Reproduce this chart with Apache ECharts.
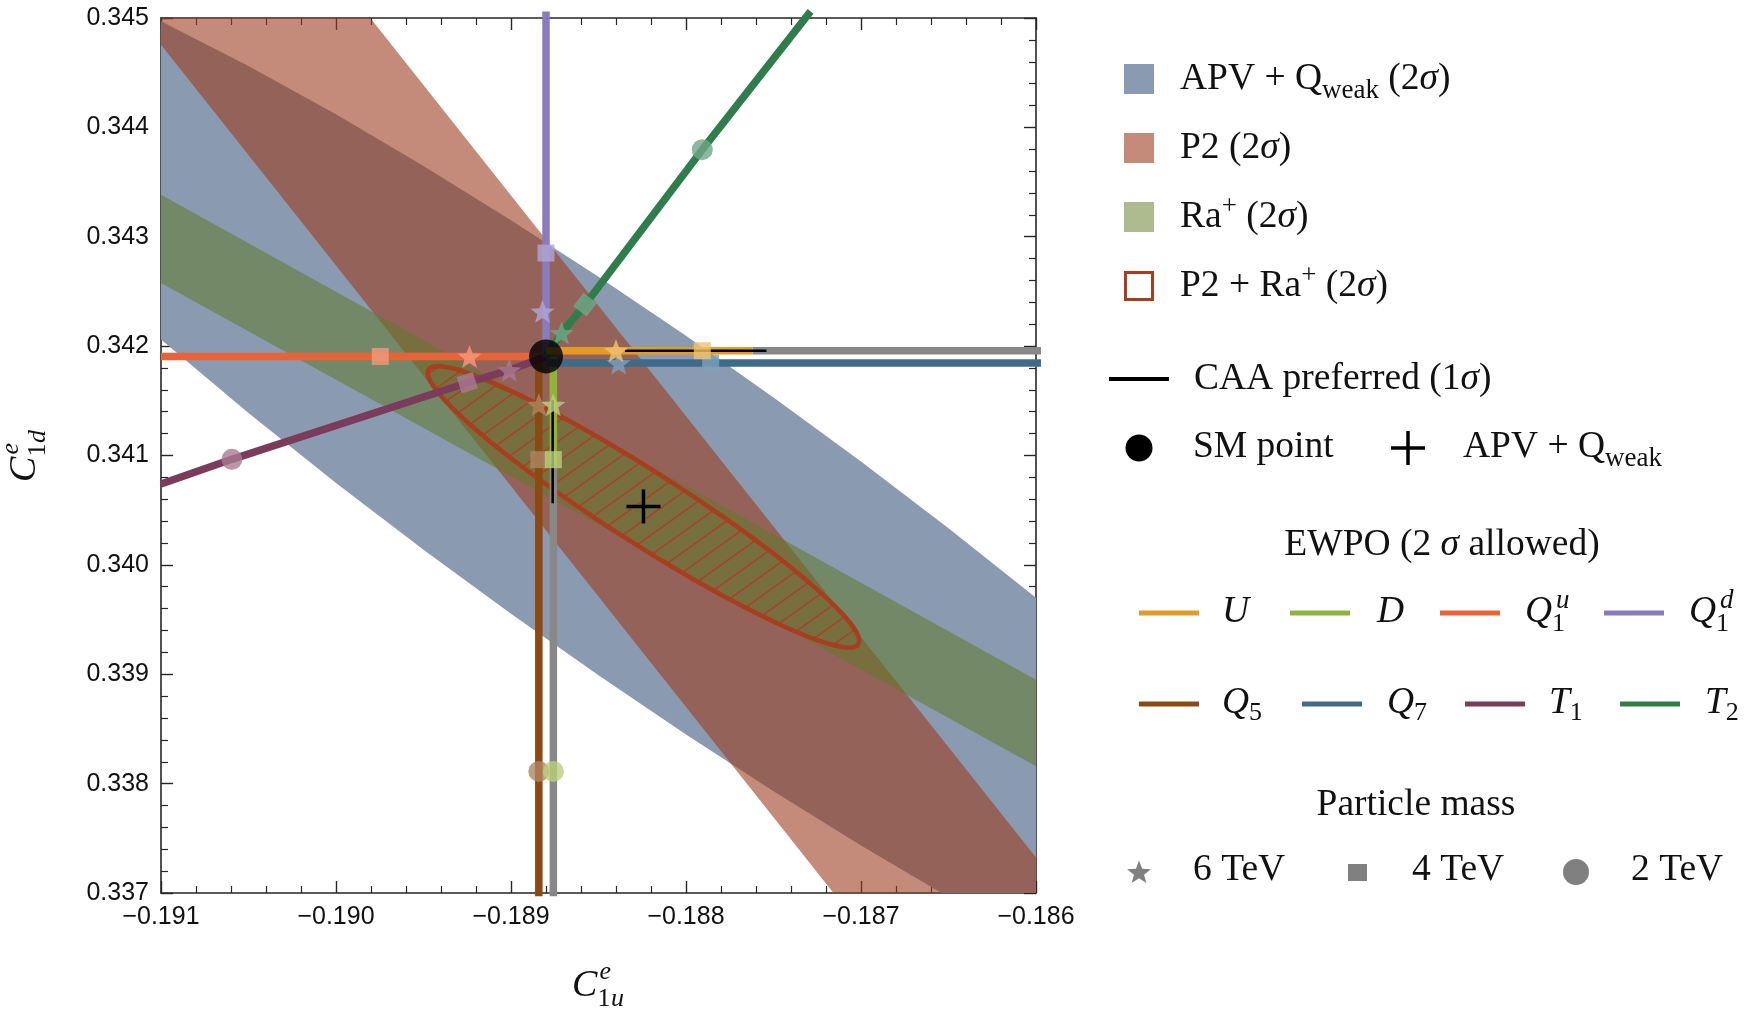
<!DOCTYPE html>
<html>
<head>
<meta charset="utf-8">
<title>C1u - C1d plane</title>
<script src="https://cdn.jsdelivr.net/npm/echarts@6/dist/echarts.min.js"></script>
<style>
  html, body { margin: 0; padding: 0; background: #fff; }
  #chart { width: 1750px; height: 1010px; }
</style>
</head>
<body>
<div id="chart"></div>
<script>
// axes
const xRange = [-0.191, -0.186];
const yRange = [0.337, 0.345];
const tickStep = 0.001;

// SM point and APV + Qweak best fit
const smPoint = [-0.18880, 0.341906];
const apvFit = [-0.188243, 0.340534];

// 2 sigma regions (boundary vertices)
const apvRegion = [
  [-0.191, 0.344971], [-0.1905, 0.344561], [-0.190, 0.344119], [-0.1895, 0.343648],
  [-0.189, 0.343152], [-0.1885, 0.342634], [-0.188, 0.342094], [-0.1875, 0.341531],
  [-0.187, 0.340946], [-0.1865, 0.340336], [-0.186, 0.339699],
  [-0.186, 0.337], [-0.18654, 0.337],
  [-0.187, 0.337434], [-0.1875, 0.337930], [-0.188, 0.338449], [-0.1885, 0.338990],
  [-0.189, 0.339553], [-0.1895, 0.340139], [-0.190, 0.340749], [-0.1905, 0.341388],
  [-0.191, 0.342060]
];
const p2Band = [
  [-0.191, 0.345], [-0.189804, 0.345], [-0.186, 0.337324],
  [-0.186, 0.337], [-0.187157, 0.337], [-0.191, 0.344756]
];
const raBand = [
  [-0.191, 0.343385], [-0.186, 0.338950], [-0.186, 0.338158], [-0.191, 0.342577]
];
const p2RaRegion = [
  [-0.187015, 0.339275], [-0.187085, 0.339245], [-0.187235, 0.339304], [-0.187453, 0.339446],
  [-0.187725, 0.339662], [-0.188032, 0.339937], [-0.188354, 0.340253], [-0.188668, 0.340587],
  [-0.188953, 0.340917], [-0.189190, 0.341222], [-0.189362, 0.341478], [-0.189458, 0.341671],
  [-0.189471, 0.341785], [-0.189401, 0.341815], [-0.189251, 0.341756], [-0.189033, 0.341614],
  [-0.188761, 0.341398], [-0.188454, 0.341123], [-0.188132, 0.340807], [-0.187818, 0.340473],
  [-0.187533, 0.340143], [-0.187296, 0.339838], [-0.187124, 0.339582], [-0.187028, 0.339389]
];

// EWPO lines: allowed path, and points at 6 / 4 / 2 TeV (null = outside the plot)
const uPath = [[-0.18880, 0.341958], [-0.18762, 0.341958]];
const uMass = [[-0.18840, 0.341958], [-0.187907, 0.341958], null];
const dPath = [[-0.188758, 0.341906], [-0.188758, 0.34093]];
const dMass = [[-0.188758, 0.341465], [-0.188758, 0.340962], [-0.188758, 0.338112]];
const q1uPath = [[-0.18880, 0.341906], [-0.191, 0.341906]];
const q1uMass = [[-0.189237, 0.341906], [-0.189747, 0.341906], null];
const q1dPath = [[-0.18880, 0.341906], [-0.18880, 0.34506]];
const q1dMass = [[-0.18882, 0.342318], [-0.18880, 0.342851], null];
const q5Path = [[-0.188841, 0.341906], [-0.188841, 0.33697]];
const q5Mass = [[-0.188841, 0.341465], [-0.188841, 0.340962], [-0.188841, 0.338112]];
const q7Path = [[-0.18880, 0.341845], [-0.185966, 0.341845]];
const q7Mass = [[-0.188385, 0.341845], [-0.187859, 0.341845], null];
const t1Path = [[-0.18880, 0.341906], [-0.18901, 0.34178], [-0.18925, 0.341665], [-0.190595, 0.340965], [-0.191, 0.34074]];
const t1Mass = [[-0.18901, 0.34178], [-0.18925, 0.341665], [-0.190595, 0.340965]];
const t2Path = [[-0.18880, 0.341906], [-0.188711, 0.34212], [-0.188577, 0.342379], [-0.187907, 0.343796], [-0.187288, 0.34506]];
const t2Mass = [[-0.188711, 0.34212], [-0.188577, 0.342379], [-0.187907, 0.343796]];

// EWPO excluded continuation (grey) and CAA preferred (1 sigma)
const uExcluded = [[-0.18762, 0.341958], [-0.185966, 0.341958]];
const dExcluded = [[-0.188758, 0.34093], [-0.188758, 0.33697]];
const caaU = [[-0.188349, 0.341958], [-0.18754, 0.341958]];
const caaD = [[-0.188762, 0.341507], [-0.188762, 0.340563]];

const ewpo = [
  { name: 'Q5', path: q5Path, mass: q5Mass, color: '#8b4a13', light: '#b0855f', rot: 0 },
  { name: 'D', path: dPath, mass: dMass, color: '#8fb43a', light: '#b9d07b', rot: 0 },
  { name: 'Q1u', path: q1uPath, mass: q1uMass, color: '#e9633a', light: '#f29a7c', rot: 0 },
  { name: 'T1', path: t1Path, mass: t1Mass, color: '#7b3b5a', light: '#a97b93', rot: 18 },
  { name: 'Q1d', path: q1dPath, mass: q1dMass, color: '#8a7bbd', light: '#b2a6d6', rot: 0 },
  { name: 'T2', path: t2Path, mass: t2Mass, color: '#2f7d4b', light: '#72a788', rot: 53 },
  { name: 'Q7', path: q7Path, mass: q7Mass, color: '#3f6b8b', light: '#7ea1ba', rot: 0 },
  { name: 'U', path: uPath, mass: uMass, color: '#e39b26', light: '#f0c272', rot: 0 }
];

const starPath = 'path://M0,-10L2.469,-3.398L9.511,-3.090L3.994,1.298L5.878,8.090L0,4.2L-5.878,8.090L-3.994,1.298L-9.511,-3.090L-2.469,-3.398Z';
const massSymbol = [starPath, 'rect', 'circle'];
const massSize = [[24, 23], 17, 21];

const chart = echarts.init(document.getElementById('chart'), null, { renderer: 'canvas' });

function fmt(v) {
  return (v < 0 ? '\u2212' : '') + Math.abs(v).toFixed(3);
}

function axis(pos, range, labels) {
  return {
    type: 'value', position: pos, min: range[0], max: range[1], interval: tickStep,
    axisLine: { show: true, onZero: false, lineStyle: { color: '#262626', width: 1.6 } },
    axisTick: { show: true, inside: true, length: 12, lineStyle: { color: '#262626', width: 1.4 } },
    minorTick: { show: true, splitNumber: 5, length: 7, lineStyle: { color: '#262626', width: 1.2 } },
    splitLine: { show: false },
    minorSplitLine: { show: false },
    axisLabel: {
      show: labels, fontFamily: '"Liberation Sans", Arial, sans-serif', fontSize: 25,
      color: '#111', margin: 12, showMinLabel: true, showMaxLabel: true, formatter: fmt
    }
  };
}

// diagonal hatch for the P2 + Ra+ region
function hatch() {
  const w = 28, h = 20;
  const c = document.createElement('canvas');
  c.width = w; c.height = h;
  const g = c.getContext('2d');
  g.strokeStyle = '#a8432a';
  g.lineWidth = 1.6;
  [-w, 0, w].forEach(function (o) {
    g.beginPath();
    g.moveTo(o - w, 2 * h);
    g.lineTo(o + 2 * w, -h);
    g.stroke();
  });
  return { image: c, repeat: 'repeat' };
}

function polygonSeries(name, pts, style, z, smooth) {
  return {
    name: name, type: 'custom', coordinateSystem: 'cartesian2d', z: z, silent: true,
    data: [[xRange[0], yRange[0]]],
    renderItem: function (params, api) {
      return {
        type: 'polygon',
        shape: { points: pts.map(function (p) { return api.coord(p); }), smooth: smooth || 0 },
        style: style
      };
    }
  };
}

function pathSeries(name, pts, color, width, z) {
  return {
    name: name, type: 'line', data: pts, showSymbol: false, symbol: 'none', clip: false,
    z: z, silent: true, lineStyle: { color: color, width: width, cap: 'butt' }
  };
}

const series = [
  polygonSeries('APV + Qweak (2σ)', apvRegion, { fill: '#8a9ab0' }, 1),
  polygonSeries('P2 (2σ)', p2Band, { fill: 'rgba(157,62,33,0.6)' }, 1),
  polygonSeries('Ra+ (2σ)', raBand, { fill: 'rgba(97,122,41,0.55)' }, 1),
  polygonSeries('P2 + Ra+ (2σ)', p2RaRegion, { fill: hatch(), stroke: '#a93d1f', lineWidth: 4.5 }, 2, 0.4),
  pathSeries('U excluded', uExcluded, '#888888', 7.5, 3),
  pathSeries('D excluded', dExcluded, '#888888', 7.5, 3)
];
ewpo.forEach(function (l) {
  series.push(pathSeries(l.name, l.path, l.color, 7.5, 4));
});
series.push(pathSeries('CAA U', caaU, '#000', 2.5, 5));
series.push(pathSeries('CAA D', caaD, '#000', 2.5, 5));

[0, 1, 2].forEach(function (m) {
  series.push({
    name: ['6 TeV', '4 TeV', '2 TeV'][m], type: 'scatter', z: 6, silent: true,
    symbol: massSymbol[m], symbolSize: massSize[m],
    data: ewpo.filter(function (l) { return l.mass[m]; }).map(function (l) {
      return { value: l.mass[m], itemStyle: { color: l.light }, symbolRotate: m === 1 ? l.rot : 0 };
    })
  });
});

series.push({
  name: 'SM point', type: 'scatter', z: 7, silent: true, symbol: 'circle', symbolSize: 34,
  itemStyle: { color: '#000' }, data: [smPoint]
});
series.push({
  name: 'APV + Qweak', type: 'custom', coordinateSystem: 'cartesian2d', z: 7, silent: true,
  data: [apvFit],
  renderItem: function (params, api) {
    const c = api.coord([api.value(0), api.value(1)]);
    const s = { stroke: '#000', lineWidth: 3.5 };
    return {
      type: 'group', children: [
        { type: 'line', shape: { x1: c[0] - 17, y1: c[1], x2: c[0] + 17, y2: c[1] }, style: s },
        { type: 'line', shape: { x1: c[0], y1: c[1] - 17, x2: c[0], y2: c[1] + 17 }, style: s }
      ]
    };
  }
});

// text with sub/superscripts, placed piece by piece
const meas = document.createElement('canvas').getContext('2d');
function mathText(x0, base, parts, center) {
  let cx = 0, pend = 0;
  const placed = [];
  parts.forEach(function (p) {
    const size = p.size || 37.5;
    const font = (p.it ? 'italic ' : '') + size + 'px "Liberation Serif"';
    meas.font = font;
    const w = meas.measureText(p.t).width;
    placed.push({ t: p.t, font: font, x: cx + (p.dx || 0), y: base + (p.dy || 0) - 0.3375 * size });
    if (p.stack) {
      pend = w + (p.dx || 0);
    } else {
      cx += Math.max(w + (p.dx || 0), pend);
      pend = 0;
    }
  });
  const shift = center ? -cx / 2 : 0;
  return placed.map(function (q) {
    return {
      type: 'text', x: x0 + shift + q.x, y: q.y, silent: true,
      style: { text: q.t, font: q.font, fill: '#111', textAlign: 'left', textVerticalAlign: 'middle', verticalAlign: 'middle' }
    };
  });
}

function starPoints(cx, cy, R, r) {
  const pts = [];
  for (let i = 0; i < 10; i++) {
    const a = -Math.PI / 2 + i * Math.PI / 5;
    const rr = i % 2 ? r : R;
    pts.push([cx + rr * Math.cos(a), cy + rr * Math.sin(a)]);
  }
  return pts;
}

const sig = { t: '\u03c3', it: true };
const g = [];
// region legend
[['#8a9ab0', 64], ['#c48b7a', 133], ['#aebb8f', 202]].forEach(function (s) {
  g.push({ type: 'rect', shape: { x: 1124, y: s[1], width: 30, height: 30 }, style: { fill: s[0] } });
});
g.push({ type: 'rect', shape: { x: 1125.5, y: 272.5, width: 27, height: 27 }, style: { fill: '#fff', stroke: '#a93d1f', lineWidth: 3 } });
g.push.apply(g, mathText(1180, 92, [{ t: 'APV + Q' }, { t: 'weak', size: 27, dy: 8 }, { t: ' (2' }, sig, { t: ')' }]));
g.push.apply(g, mathText(1180, 161, [{ t: 'P2 (2' }, sig, { t: ')' }]));
g.push.apply(g, mathText(1180, 230, [{ t: 'Ra' }, { t: '+', size: 27, dy: -14 }, { t: ' (2' }, sig, { t: ')' }]));
g.push.apply(g, mathText(1180, 299, [{ t: 'P2 + Ra' }, { t: '+', size: 27, dy: -14 }, { t: ' (2' }, sig, { t: ')' }]));

g.push({ type: 'line', shape: { x1: 1109, y1: 379, x2: 1169, y2: 379 }, style: { stroke: '#000', lineWidth: 4 } });
g.push.apply(g, mathText(1194, 392, [{ t: 'CAA preferred (1' }, sig, { t: ')' }]));
g.push({ type: 'circle', shape: { cx: 1139, cy: 448, r: 13.5 }, style: { fill: '#000' } });
g.push.apply(g, mathText(1193, 460, [{ t: 'SM point' }]));
g.push({ type: 'line', shape: { x1: 1391, y1: 448, x2: 1425, y2: 448 }, style: { stroke: '#000', lineWidth: 3.5 } });
g.push({ type: 'line', shape: { x1: 1408, y1: 431, x2: 1408, y2: 465 }, style: { stroke: '#000', lineWidth: 3.5 } });
g.push.apply(g, mathText(1463, 460, [{ t: 'APV + Q' }, { t: 'weak', size: 27, dy: 8 }]));

// EWPO legend
g.push.apply(g, mathText(1442, 558, [{ t: 'EWPO (2 ' }, sig, { t: ' allowed)' }], true));
const ewpoLegend = [
  ['U', 1139, 613, 1222, [{ t: 'U', it: true }]],
  ['D', 1290, 613, 1377, [{ t: 'D', it: true }]],
  ['Q1u', 1440, 613, 1525, [{ t: 'Q', it: true }, { t: 'u', it: true, size: 27, dy: -15, dx: 4, stack: true }, { t: '1', size: 26, dy: 8 }]],
  ['Q1d', 1604, 613, 1689, [{ t: 'Q', it: true }, { t: 'd', it: true, size: 27, dy: -15, dx: 4, stack: true }, { t: '1', size: 26, dy: 8 }]],
  ['Q5', 1139, 704, 1222, [{ t: 'Q', it: true }, { t: '5', size: 26, dy: 6 }]],
  ['Q7', 1302, 704, 1387, [{ t: 'Q', it: true }, { t: '7', size: 26, dy: 6 }]],
  ['T1', 1465, 704, 1549, [{ t: 'T', it: true }, { t: '1', size: 26, dy: 6 }]],
  ['T2', 1620, 704, 1705, [{ t: 'T', it: true }, { t: '2', size: 26, dy: 6 }]]
];
ewpoLegend.forEach(function (e) {
  const l = ewpo.filter(function (s) { return s.name === e[0]; })[0];
  g.push({ type: 'line', shape: { x1: e[1], y1: e[2], x2: e[1] + 60, y2: e[2] }, style: { stroke: l.color, lineWidth: 5 } });
  g.push.apply(g, mathText(e[3], e[2] + 12, e[4]));
});

// mass legend
g.push.apply(g, mathText(1416, 818, [{ t: 'Particle mass' }], true));
g.push({ type: 'polygon', shape: { points: starPoints(1139, 873, 12.5, 5.3) }, style: { fill: '#808080' } });
g.push({ type: 'rect', shape: { x: 1348, y: 864, width: 19, height: 17 }, style: { fill: '#808080' } });
g.push({ type: 'circle', shape: { cx: 1576, cy: 872, r: 13 }, style: { fill: '#808080' } });
g.push.apply(g, mathText(1193, 883, [{ t: '6 TeV' }]));
g.push.apply(g, mathText(1412, 883, [{ t: '4 TeV' }]));
g.push.apply(g, mathText(1631, 883, [{ t: '2 TeV' }]));

// axis names
g.push.apply(g, mathText(598, 999, [{ t: 'C', it: true, size: 38 }, { t: 'e', it: true, size: 26, dy: -18, dx: 2, stack: true }, { t: '1', size: 26, dy: 9 }, { t: 'u', it: true, size: 26, dy: 9 }], true));
g.push({
  type: 'group', x: 38, y: 456, rotation: Math.PI / 2,
  children: mathText(0, 0, [{ t: 'C', it: true, size: 38 }, { t: 'e', it: true, size: 26, dy: -18, dx: 2, stack: true }, { t: '1', size: 26, dy: 9 }, { t: 'd', it: true, size: 26, dy: 9 }], true)
});

chart.setOption({
  animation: false,
  backgroundColor: '#fff',
  grid: { left: 161, top: 18, width: 875, height: 875, containLabel: false },
  xAxis: [axis('bottom', xRange, true), axis('top', xRange, false)],
  yAxis: [axis('left', yRange, true), axis('right', yRange, false)],
  series: series,
  graphic: g
});
</script>
</body>
</html>
